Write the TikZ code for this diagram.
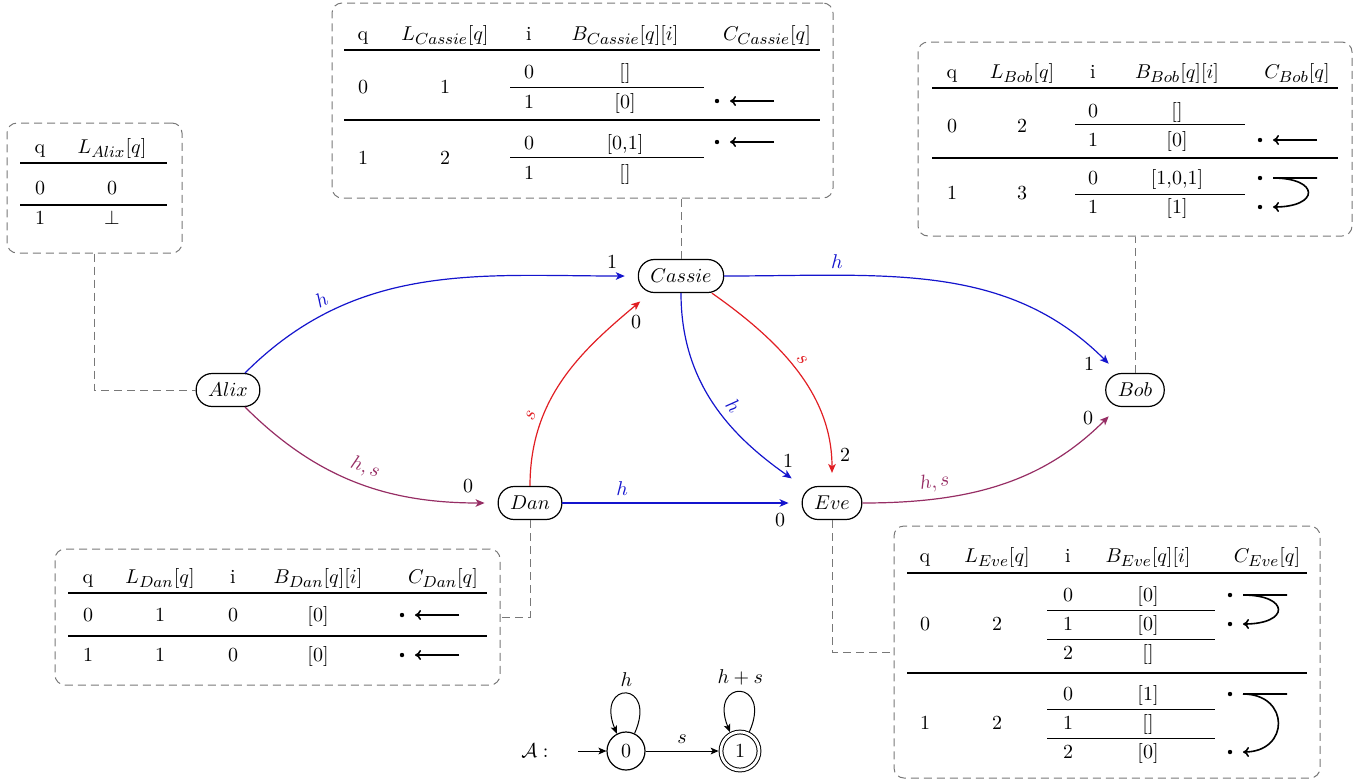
\documentclass[tikz,border=0pt]{standalone}
\usepackage{amsmath,amssymb}
\DeclareMathSizes{10}{10}{8}{6}
\usetikzlibrary{arrows.meta,calc}

\definecolor{edgeblue}{RGB}{20,20,205}
\definecolor{edgered}{RGB}{225,30,35}
\definecolor{edgeplum}{RGB}{150,45,100}
\definecolor{boxgray}{RGB}{120,120,120}

\tikzset{
  agent/.style={draw, line width=0.6pt, rounded corners=8pt, minimum height=16.5pt,
                inner xsep=6pt, inner ysep=0pt},
  comm/.style={line width=0.6pt, -{Stealth[length=4.5pt,width=3.8pt,inset=1.2pt]}, shorten >=6.5pt},
  endlbl/.style={inner sep=0pt},
  tabbox/.style={draw=boxgray, dash pattern=on 4pt off 2.5pt, line width=0.5pt,
                 rounded corners=5pt, inner sep=0pt},
  link/.style={draw=boxgray, dash pattern=on 4pt off 2.5pt, line width=0.5pt},
  cell/.style={inner sep=0pt, anchor=base},
  headrule/.style={line width=0.8pt},
  rowrule/.style={line width=0.6pt},
  subrule/.style={line width=0.4pt},
  cptrline/.style={line width=0.8pt, -{To[length=3pt,width=5pt]}},
  state/.style={draw, circle, line width=0.6pt, minimum size=19pt, inner sep=0pt},
  accepting/.style={double, double distance=1.4pt, line width=0.5pt, outer sep=1.2pt},
  aut/.style={line width=0.5pt, -{Stealth[length=4pt,width=3.4pt,inset=1pt]}}
}

% pointer between two sub-rows of the C column: dots, tail on the first row, bent head on the second
\newcommand\cptr[3]{%
  \fill (#1,#2) circle (1.1pt);
  \fill (#1,#3) circle (1.1pt);
  \draw[cptrline] (#1+57,#2) -- (#1+13,#2) to[out=0,in=0,distance=23.5pt] (#1+13,#3);
}
% pointer that stays on its own sub-row (the folded bend shows as a heavier stretch)
\newcommand\cself[2]{%
  \fill (#1,#2) circle (1.1pt);
  \draw[cptrline] (#1+57,#2) -- (#1+13,#2);
  \draw[line width=1.1pt] (#1+26,#2) -- (#1+46,#2);
}

\begin{document}
\begin{tikzpicture}[x=0.5pt,y=-0.5pt]
\useasboundingbox (0,0) rectangle (1370,783);

% ---------- agents ----------
\node[agent] (alix)   at (228,390) {$Alix$};
\node[agent] (cassie) at (681,276) {$Cassie$};
\node[agent] (dan)    at (530,503) {$Dan$};
\node[agent] (eve)    at (832,503) {$Eve$};
\node[agent] (bob)    at (1135,390) {$Bob$};

% ---------- channels ----------
\draw[comm, edgeblue] (alix.45) to[out=45,in=180]
  node[sloped, above, pos=0.24] {$h$} (cassie.west);
\draw[comm, edgeplum] (alix.-45) to[out=-45,in=180]
  node[sloped, above, pos=0.5] {$h, s$} (dan.west);
\draw[comm, edgered] (dan.north) to[out=90,in=-140]
  node[sloped, above, pos=0.28] {$s$} (cassie.-151);
\draw[comm, edgeblue] (dan.east) -- node[above, pos=0.25] {$h$} (eve.west);
\draw[comm, edgeblue] (cassie.south) to[out=-90,in=145]
  node[sloped, above, pos=0.56] {$h$} (eve.150);
\draw[comm, edgered] (cassie.-29) to[out=-35,in=90]
  node[sloped, above, pos=0.45] {$s$} (eve.north);
\draw[comm, edgeblue] (cassie.east) to[out=0,in=135]
  node[sloped, above, pos=0.25] {$h$} (bob.135);
\draw[comm, edgeplum] (eve.east) to[out=0,in=-135]
  node[sloped, above, pos=0.25] {$h, s$} (bob.-135);

% port numbers at the receiving ends
\node[endlbl] (pAC) at (612,262) {1};
\node[endlbl] (pDC) at (636,322) {0};
\node[endlbl] (pAD) at (468,486) {0};
\node[endlbl] (pDE) at (780,520) {0};
\node[endlbl] (pCEh) at (788,461) {1};
\node[endlbl] (pCEs) at (845,455) {2};
\node[endlbl] (pCB) at (1089,364) {1};
\node[endlbl] (pEB) at (1088,418) {0};

% ---------- Alix ----------
\node[tabbox, minimum width=87.5pt, minimum height=65pt] (alixtab) at (94.5,188) {};
\node[cell] (aq)  at (40,153)  {q};
\node[cell] (aL)  at (112,153) {$L_{Alix}[q]$};
\draw[headrule] (20,163) -- (167,163);
\node[cell] (aq0) at (40,194.5)  {0};
\node[cell] (aL0) at (112,194.5) {0};
\draw[rowrule] (20,205) -- (167,205);
\node[cell] (aq1) at (40,224.5)  {1};
\node[cell] (aL1) at (112,224.5) {$\bot$};

% ---------- Cassie ----------
\node[tabbox, minimum width=250.5pt, minimum height=97.5pt] (cassietab) at (582.5,100.5) {};
\node[cell] (cq) at (363,40) {q};
\node[cell] (cL) at (445,40) {$L_{Cassie}[q]$};
\node[cell] (ci) at (529,40) {i};
\node[cell] (cB) at (625,40) {$B_{Cassie}[q][i]$};
\node[cell] (cC) at (767,40) {$C_{Cassie}[q]$};
\draw[headrule] (344,50) -- (820,50);
\node[cell] (cq0)  at (363,93.5)  {0};
\node[cell] (cL0)  at (445,93.5)  {1};
\node[cell] (ci00) at (529,78.5)  {0};
\node[cell] (cB00) at (625,78.5)  {[]};
\draw[subrule] (510,87) -- (704,87);
\node[cell] (ci01) at (529,108.5) {1};
\node[cell] (cB01) at (625,108.5) {[0]};
\cself{717}{101}
\draw[rowrule] (344,120) -- (820,120);
\node[cell] (cq1)  at (363,164.5) {1};
\node[cell] (cL1)  at (445,164.5) {2};
\node[cell] (ci10) at (529,149.5) {0};
\node[cell] (cB10) at (625,149.5) {[0,1]};
\draw[subrule] (510,157) -- (704,157);
\node[cell] (ci11) at (529,179.5) {1};
\node[cell] (cB11) at (625,179.5) {[]};
\cself{717}{142}

% ---------- Bob ----------
\node[tabbox, minimum width=217pt, minimum height=97pt] (bobtab) at (1135,139) {};
\node[cell] (bq) at (952,78)  {q};
\node[cell] (bL) at (1022,78) {$L_{Bob}[q]$};
\node[cell] (bi) at (1093,78) {i};
\node[cell] (bB) at (1177,78) {$B_{Bob}[q][i]$};
\node[cell] (bC) at (1297,78) {$C_{Bob}[q]$};
\draw[headrule] (932,88) -- (1338,88);
\node[cell] (bq0)  at (952,132)    {0};
\node[cell] (bL0)  at (1022,132)   {2};
\node[cell] (bi00) at (1093,117.5) {0};
\node[cell] (bB00) at (1177,117.5) {[]};
\draw[subrule] (1075,124) -- (1245,124);
\node[cell] (bi01) at (1093,146.5) {1};
\node[cell] (bB01) at (1177,146.5) {[0]};
\cself{1260}{140}
\draw[rowrule] (932,158) -- (1338,158);
\node[cell] (bq1)  at (952,199)    {1};
\node[cell] (bL1)  at (1022,199)   {3};
\node[cell] (bi10) at (1093,184.5) {0};
\node[cell] (bB10) at (1177,184.5) {[1,0,1]};
\draw[subrule] (1075,194) -- (1245,194);
\node[cell] (bi11) at (1093,213.5) {1};
\node[cell] (bB11) at (1177,213.5) {[1]};
\cptr{1260}{178}{207}

% ---------- Dan ----------
\node[tabbox, minimum width=222.5pt, minimum height=68pt] (dantab) at (277.5,617) {};
\node[cell] (dq) at (88,583)  {q};
\node[cell] (dL) at (160,583) {$L_{Dan}[q]$};
\node[cell] (di) at (233,583) {i};
\node[cell] (dB) at (318,583) {$B_{Dan}[q][i]$};
\node[cell] (dC) at (443,583) {$C_{Dan}[q]$};
\draw[headrule] (68,593) -- (487,593);
\node[cell] (dq0) at (88,621.5)  {0};
\node[cell] (dL0) at (160,621.5) {1};
\node[cell] (di0) at (233,621.5) {0};
\node[cell] (dB0) at (318,621.5) {[0]};
\cself{402}{615}
\draw[rowrule] (68,636) -- (487,636);
\node[cell] (dq1) at (88,661.5)  {1};
\node[cell] (dL1) at (160,661.5) {1};
\node[cell] (di1) at (233,661.5) {0};
\node[cell] (dB1) at (318,661.5) {[0]};
\cself{402}{655}

% ---------- Eve ----------
\node[tabbox, minimum width=213pt, minimum height=126pt] (evetab) at (1107,652) {};
\node[cell] (eq) at (925,562)  {q};
\node[cell] (eL) at (997,562)  {$L_{Eve}[q]$};
\node[cell] (ei) at (1068,562) {i};
\node[cell] (eB) at (1148,562) {$B_{Eve}[q][i]$};
\node[cell] (eC) at (1267,562) {$C_{Eve}[q]$};
\draw[headrule] (907,573) -- (1307,573);
\node[cell] (eq0)  at (925,630.5)  {0};
\node[cell] (eL0)  at (997,630.5)  {2};
\node[cell] (ei00) at (1068,601.5) {0};
\node[cell] (eB00) at (1148,601.5) {[0]};
\draw[subrule] (1047,610) -- (1215,610);
\node[cell] (ei01) at (1068,630.5) {1};
\node[cell] (eB01) at (1148,630.5) {[0]};
\draw[subrule] (1047,639) -- (1215,639);
\node[cell] (ei02) at (1068,659.5) {2};
\node[cell] (eB02) at (1148,659.5) {[]};
\cptr{1230}{595}{624}
\draw[rowrule] (907,673) -- (1307,673);
\node[cell] (eq1)  at (925,729.5)  {1};
\node[cell] (eL1)  at (997,729.5)  {2};
\node[cell] (ei10) at (1068,700.5) {0};
\node[cell] (eB10) at (1148,700.5) {[1]};
\draw[subrule] (1047,709) -- (1215,709);
\node[cell] (ei11) at (1068,729.5) {1};
\node[cell] (eB11) at (1148,729.5) {[]};
\draw[subrule] (1047,738) -- (1215,738);
\node[cell] (ei12) at (1068,758.5) {2};
\node[cell] (eB12) at (1148,758.5) {[0]};
\cptr{1230}{694}{752}

% ---------- tables hooked to their agents ----------
\draw[link] (alixtab.south) |- (alix.west);
\draw[link] (cassie.north) -- (cassie.north |- cassietab.south);
\draw[link] (bob.north) -- (bob.north |- bobtab.south);
\draw[link] (dan.south) |- (dantab.east);
\draw[link] (eve.south) |- (evetab.west);

% ---------- automaton ----------
\node[inner sep=0pt] (aname) at (535,751) {$\mathcal{A}:$};
\node[state] (q0) at (626,751) {0};
\node[state, accepting] (q1) at (740,751) {1};
\coordinate (init) at (578,751);
\draw[aut] (init) -- (q0);
\draw[aut] (q0) -- node[above] {$s$} (q1);
\draw[aut] (q0.64) .. controls +(66:29pt) and +(112:29pt) .. node[above] {$h$} (q0.118);
\draw[aut] (q1.64) .. controls +(66:29pt) and +(112:29pt) .. node[above] {$h+s$} (q1.118);
\end{tikzpicture}
\end{document}
